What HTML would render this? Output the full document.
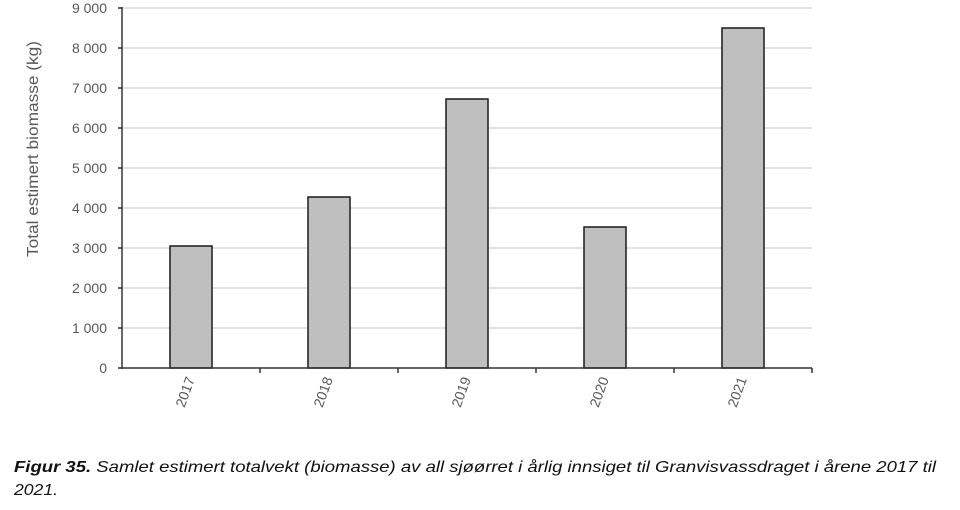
<!DOCTYPE html>
<html><head><meta charset="utf-8">
<style>
html,body{margin:0;padding:0;background:#fff;}
svg{display:block;}
</style></head>
<body>
<svg width="960" height="510" xmlns="http://www.w3.org/2000/svg" font-family="Liberation Sans, sans-serif">
<rect width="960" height="510" fill="#fff"/>
<g stroke="#dcdcdc" stroke-width="1.5">
<line x1="122" y1="8" x2="812" y2="8"/>
<line x1="122" y1="48" x2="812" y2="48"/>
<line x1="122" y1="88" x2="812" y2="88"/>
<line x1="122" y1="128" x2="812" y2="128"/>
<line x1="122" y1="168" x2="812" y2="168"/>
<line x1="122" y1="208" x2="812" y2="208"/>
<line x1="122" y1="248" x2="812" y2="248"/>
<line x1="122" y1="288" x2="812" y2="288"/>
<line x1="122" y1="328" x2="812" y2="328"/>
</g>
<g fill="#bfbfbf" stroke="#1a1a1a" stroke-width="1.5">
<rect x="170" y="246" width="42" height="122"/>
<rect x="308" y="197" width="42" height="171"/>
<rect x="446" y="99" width="42" height="269"/>
<rect x="584" y="227" width="42" height="141"/>
<rect x="722" y="28" width="42" height="340"/>
</g>
<g stroke="#333" stroke-width="1.5">
<line x1="122" y1="7" x2="122" y2="369"/>
<line x1="121" y1="368" x2="812" y2="368"/>
<line x1="118" y1="8" x2="122" y2="8"/><line x1="118" y1="48" x2="122" y2="48"/>
<line x1="118" y1="88" x2="122" y2="88"/><line x1="118" y1="128" x2="122" y2="128"/>
<line x1="118" y1="168" x2="122" y2="168"/><line x1="118" y1="208" x2="122" y2="208"/>
<line x1="118" y1="248" x2="122" y2="248"/><line x1="118" y1="288" x2="122" y2="288"/>
<line x1="118" y1="328" x2="122" y2="328"/><line x1="118" y1="368" x2="122" y2="368"/>
<line x1="260" y1="368" x2="260" y2="373"/><line x1="398" y1="368" x2="398" y2="373"/>
<line x1="536" y1="368" x2="536" y2="373"/><line x1="674" y1="368" x2="674" y2="373"/>
<line x1="812" y1="368" x2="812" y2="373"/>
</g>
<g font-size="14" fill="#595959" text-anchor="end">
<text x="107" y="13">9 000</text><text x="107" y="53">8 000</text>
<text x="107" y="93">7 000</text><text x="107" y="133">6 000</text>
<text x="107" y="173">5 000</text><text x="107" y="213">4 000</text>
<text x="107" y="253">3 000</text><text x="107" y="293">2 000</text>
<text x="107" y="333">1 000</text><text x="107" y="373">0</text>
</g>
<text transform="translate(38,149) rotate(-90)" font-size="16" fill="#595959" text-anchor="middle" textLength="216" lengthAdjust="spacingAndGlyphs">Total estimert biomasse (kg)</text>
<g font-size="14" fill="#595959" text-anchor="end">
<text transform="translate(195,379) rotate(-70)">2017</text>
<text transform="translate(333,379) rotate(-70)">2018</text>
<text transform="translate(471,379) rotate(-70)">2019</text>
<text transform="translate(609,379) rotate(-70)">2020</text>
<text transform="translate(747,379) rotate(-70)">2021</text>
</g>
<g font-size="16" font-style="italic" fill="#111">
<text x="14" y="472" textLength="922" lengthAdjust="spacingAndGlyphs"><tspan font-weight="bold">Figur 35.</tspan> Samlet estimert totalvekt (biomasse) av all sjøørret i årlig innsiget til Granvisvassdraget i årene 2017 til</text>
<text x="14" y="495" textLength="44" lengthAdjust="spacingAndGlyphs">2021.</text>
</g>
</svg>
</body></html>
